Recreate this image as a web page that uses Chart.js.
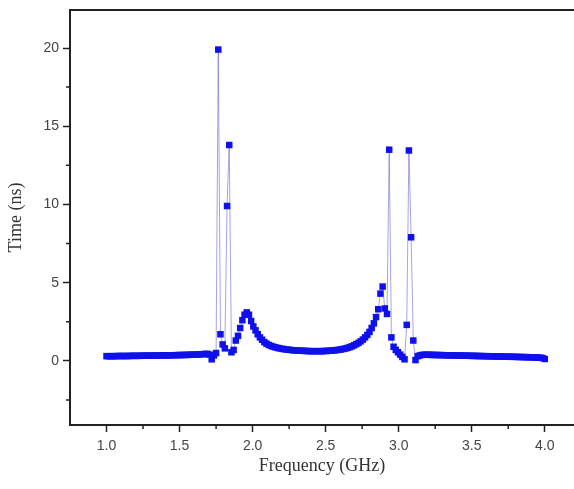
<!DOCTYPE html>
<html lang="en">
<head>
  <meta charset="UTF-8">
  <title>Time vs Frequency</title>
  <script src="https://cdn.jsdelivr.net/npm/chart.js"></script>
  <style>
    body { margin: 0; background: #fff; overflow: hidden; }
    canvas { display: block; }
  </style>
</head>
<body>
  <canvas id="timeChart" width="574" height="489"></canvas>
  <script>
    // frequency grid (GHz)
    var freq = [
      1.000,1.015,1.030,1.045,1.060,1.075,1.090,1.105,1.120,1.135,
      1.150,1.165,1.180,1.195,1.210,1.225,1.240,1.255,1.270,1.285,
      1.300,1.315,1.330,1.345,1.360,1.375,1.390,1.405,1.420,1.435,
      1.450,1.465,1.480,1.495,1.510,1.525,1.540,1.555,1.570,1.585,
      1.600,1.615,1.630,1.645,1.660,1.675,1.690,1.705,1.720,1.735,
      1.750,1.765,1.780,1.795,1.810,1.825,1.840,1.855,1.870,1.885,
      1.900,1.915,1.930,1.945,1.960,1.975,1.990,2.005,2.020,2.035,
      2.050,2.065,2.080,2.095,2.110,2.125,2.140,2.155,2.170,2.185,
      2.200,2.215,2.230,2.245,2.260,2.275,2.290,2.305,2.320,2.335,
      2.350,2.365,2.380,2.395,2.410,2.425,2.440,2.455,2.470,2.485,
      2.500,2.515,2.530,2.545,2.560,2.575,2.590,2.605,2.620,2.635,
      2.650,2.665,2.680,2.695,2.710,2.725,2.740,2.755,2.770,2.785,
      2.800,2.815,2.830,2.845,2.860,2.875,2.890,2.905,2.920,2.935,
      2.950,2.965,2.980,2.995,3.010,3.025,3.040,3.055,3.070,3.085,
      3.100,3.115,3.130,3.145,3.160,3.175,3.190,3.205,3.220,3.235,
      3.250,3.265,3.280,3.295,3.310,3.325,3.340,3.355,3.370,3.385,
      3.400,3.415,3.430,3.445,3.460,3.475,3.490,3.505,3.520,3.535,
      3.550,3.565,3.580,3.595,3.610,3.625,3.640,3.655,3.670,3.685,
      3.700,3.715,3.730,3.745,3.760,3.775,3.790,3.805,3.820,3.835,
      3.850,3.865,3.880,3.895,3.910,3.925,3.940,3.955,3.970,3.985,
      4.000
    ];

    // group delay (ns)
    var time = [
      0.30,0.30,0.30,0.30,0.30,0.31,0.31,0.31,0.31,0.31,
      0.31,0.32,0.32,0.32,0.32,0.32,0.33,0.33,0.33,0.33,
      0.33,0.34,0.34,0.34,0.34,0.35,0.35,0.35,0.35,0.36,
      0.36,0.36,0.37,0.37,0.37,0.38,0.38,0.38,0.39,0.39,
      0.40,0.40,0.41,0.42,0.43,0.44,0.45,0.40,0.10,0.35,
      0.50,19.9,1.70,1.05,0.80,9.90,13.8,0.55,0.70,1.30,
      1.60,2.10,2.60,2.95,3.10,2.95,2.55,2.20,1.95,1.70,
      1.50,1.35,1.20,1.10,1.02,0.96,0.91,0.87,0.83,0.80,
      0.77,0.75,0.73,0.71,0.70,0.68,0.67,0.66,0.65,0.65,
      0.64,0.63,0.63,0.62,0.62,0.62,0.62,0.62,0.62,0.63,
      0.63,0.64,0.65,0.66,0.67,0.69,0.71,0.73,0.76,0.79,
      0.83,0.88,0.93,1.00,1.07,1.15,1.25,1.36,1.50,1.66,
      1.85,2.10,2.40,2.80,3.30,4.30,4.75,3.35,3.00,13.5,
      1.50,0.90,0.70,0.55,0.40,0.25,0.10,2.30,13.45,7.90,
      1.30,0.05,0.30,0.35,0.38,0.39,0.39,0.39,0.38,0.38,
      0.38,0.37,0.37,0.37,0.36,0.36,0.36,0.35,0.35,0.35,
      0.34,0.34,0.34,0.33,0.33,0.33,0.32,0.32,0.32,0.31,
      0.31,0.31,0.30,0.30,0.30,0.29,0.29,0.29,0.28,0.28,
      0.28,0.27,0.27,0.27,0.26,0.26,0.26,0.25,0.25,0.25,
      0.24,0.24,0.24,0.23,0.23,0.22,0.22,0.21,0.20,0.18,
      0.12
    ];

    var xTicks = [1.0, 1.5, 2.0, 2.5, 3.0, 3.5, 4.0];
    var xMinor = [1.25, 1.75, 2.25, 2.75, 3.25, 3.75];
    var yTicks = [0, 5, 10, 15, 20];
    var yMinor = [-2.5, 2.5, 7.5, 12.5, 17.5];

    var points = freq.map(function (f, i) { return { x: f, y: time[i] }; });

    var axisColor = '#222';
    var tickFont = { family: 'Liberation Sans', size: 14 };
    var titleFont = { family: 'Liberation Serif', size: 18 };

    // short minor ticks on both axes
    var minorTicks = {
      id: 'minorTicks',
      afterDraw: function (chart) {
        var ctx = chart.ctx, xs = chart.scales.x, ys = chart.scales.y;
        ctx.save();
        ctx.strokeStyle = axisColor;
        ctx.lineWidth = 1.5;
        ctx.beginPath();
        xMinor.forEach(function (v) {
          var px = xs.getPixelForValue(v);
          ctx.moveTo(px, xs.top);
          ctx.lineTo(px, xs.top + 4);
        });
        yMinor.forEach(function (v) {
          var py = ys.getPixelForValue(v);
          ctx.moveTo(ys.right - 4, py);
          ctx.lineTo(ys.right, py);
        });
        ctx.stroke();
        ctx.restore();
      }
    };

    function noSidePad(s) { s.paddingLeft = 0; s.paddingRight = 0; }

    new Chart(document.getElementById('timeChart'), {
      type: 'line',
      data: {
        datasets: [{
          data: points,
          borderColor: 'rgba(90, 90, 210, 0.55)',
          borderWidth: 1,
          pointStyle: 'rect',
          pointRadius: 4.6,
          pointBorderWidth: 0,
          pointBackgroundColor: '#1010ee',
          tension: 0
        }]
      },
      options: {
        responsive: false,
        animation: false,
        layout: { padding: 0, autoPadding: false },
        plugins: { legend: { display: false }, tooltip: { enabled: false } },
        scales: {
          x: {
            type: 'linear',
            position: 'bottom',
            min: 0.75,
            max: 4.2,
            afterBuildTicks: function (s) { s.ticks = xTicks.map(function (v) { return { value: v }; }); },
            afterFit: function (s) { s.height = 64; noSidePad(s); },
            ticks: {
              color: '#444',
              font: tickFont,
              padding: 6,
              callback: function (v) { return Number(v).toFixed(1); }
            },
            grid: { drawOnChartArea: false, color: axisColor, tickLength: 7, tickWidth: 1.5 },
            border: { color: axisColor, width: 2 },
            title: {
              display: true,
              text: 'Frequency (GHz)',
              color: '#333',
              font: titleFont,
              padding: { top: 0, bottom: 12 }
            }
          },
          x2: {
            type: 'linear',
            position: 'top',
            min: 0.75,
            max: 4.2,
            afterFit: function (s) { s.height = 10; noSidePad(s); },
            ticks: { display: false },
            grid: { display: false, drawTicks: false },
            border: { display: true, color: axisColor, width: 2 }
          },
          y: {
            type: 'linear',
            position: 'left',
            min: -4.1,
            max: 22.43,
            afterBuildTicks: function (s) { s.ticks = yTicks.map(function (v) { return { value: v }; }); },
            afterFit: function (s) { s.width = 70; s.paddingTop = 0; s.paddingBottom = 0; },
            ticks: { color: '#444', font: tickFont, padding: 4 },
            grid: { drawOnChartArea: false, color: axisColor, tickLength: 7, tickWidth: 1.5 },
            border: { color: axisColor, width: 2 },
            title: {
              display: true,
              text: 'Time (ns)',
              color: '#333',
              font: titleFont,
              padding: { top: 5, bottom: 0 }
            }
          }
        }
      },
      plugins: [minorTicks]
    });
  </script>
</body>
</html>
